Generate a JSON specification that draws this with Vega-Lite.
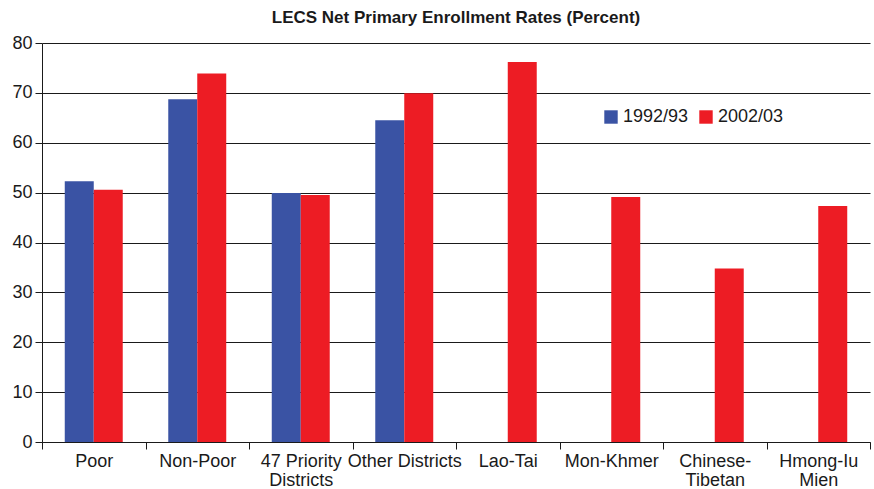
{
  "$schema": "https://vega.github.io/schema/vega-lite/v6.json",
  "autosize": "none",
  "width": 828,
  "height": 399,
  "padding": {"left": 42, "top": 43, "right": 4, "bottom": 47},
  "background": "white",
  "title": {
    "text": "LECS Net Primary Enrollment Rates (Percent)",
    "font": "Liberation Sans",
    "fontSize": 17,
    "fontWeight": "bold",
    "color": "#1a1a1a",
    "anchor": "middle",
    "offset": 7
  },
  "data": {
    "values": [
      {"group": "Poor", "year": "1992/93", "rate": 52.3},
      {"group": "Poor", "year": "2002/03", "rate": 50.6},
      {"group": "Non-Poor", "year": "1992/93", "rate": 68.7},
      {"group": "Non-Poor", "year": "2002/03", "rate": 73.9},
      {"group": "47 Priority|Districts", "year": "1992/93", "rate": 49.9},
      {"group": "47 Priority|Districts", "year": "2002/03", "rate": 49.5},
      {"group": "Other Districts", "year": "1992/93", "rate": 64.5},
      {"group": "Other Districts", "year": "2002/03", "rate": 69.9},
      {"group": "Lao-Tai", "year": "2002/03", "rate": 76.2},
      {"group": "Mon-Khmer", "year": "2002/03", "rate": 49.1},
      {"group": "Chinese-|Tibetan", "year": "2002/03", "rate": 34.8},
      {"group": "Hmong-Iu|Mien", "year": "2002/03", "rate": 47.3}
    ]
  },
  "config": {
    "view": {"stroke": null},
    "axis": {
      "labelFont": "Liberation Sans",
      "labelFontSize": 18,
      "labelColor": "#1a1a1a",
      "domainColor": "#1a1a1a",
      "tickColor": "#1a1a1a",
      "gridColor": "#1a1a1a",
      "gridOpacity": 1,
      "gridWidth": 1
    }
  },
  "mark": {"type": "bar"},
  "encoding": {
    "x": {
      "field": "group",
      "type": "nominal",
      "sort": null,
      "scale": {"paddingInner": 0, "paddingOuter": 0},
      "axis": {
        "title": null,
        "labelAngle": 0,
        "labelExpr": "split(datum.label, '|')",
        "labelPadding": 3,
        "labelLineHeight": 19,
        "tickBand": "extent",
        "tickSize": 7,
        "domainWidth": 1
      }
    },
    "xOffset": {
      "field": "year",
      "type": "nominal",
      "scale": {"domain": ["1992/93", "2002/03"], "paddingInner": 0, "paddingOuter": 0.785}
    },
    "y": {
      "field": "rate",
      "type": "quantitative",
      "scale": {"domain": [0, 80], "nice": false},
      "axis": {
        "title": null,
        "values": [0, 10, 20, 30, 40, 50, 60, 70, 80],
        "tickSize": 7,
        "labelPadding": 3,
        "grid": true
      }
    },
    "color": {
      "field": "year",
      "type": "nominal",
      "scale": {"domain": ["1992/93", "2002/03"], "range": ["#3A53A4", "#ED1C24"]},
      "legend": {
        "title": null,
        "orient": "none",
        "direction": "horizontal",
        "legendX": 560,
        "legendY": 65,
        "symbolType": "square",
        "symbolSize": 180,
        "symbolStrokeWidth": 0,
        "symbolOpacity": 1,
        "labelFont": "Liberation Sans",
        "labelFontSize": 18,
        "labelColor": "#1a1a1a",
        "labelOffset": 3,
        "columnPadding": 8
      }
    }
  }
}
